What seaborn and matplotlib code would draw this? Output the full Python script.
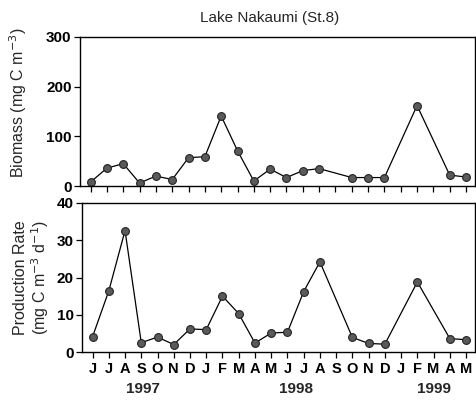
import numpy as np
import pandas as pd
import matplotlib
matplotlib.use("Agg")
import matplotlib.pyplot as plt
import seaborn as sns

months = ["J", "J", "A", "S", "O", "N", "D", "J", "F", "M", "A", "M",
          "J", "J", "A", "S", "O", "N", "D", "J", "F", "M", "A", "M"]
biomass = [8, 36, 45, 6, 20, 13, 57, 59, 141, 71, 10, 34,
           17, 31, 35, np.nan, 17, 17, 17, np.nan, 162, np.nan, 22, 18]
production = [4.1, 16.4, 32.6, 2.5, 4.0, 2.0, 6.2, 6.0, 15.0, 10.3, 2.4, 5.1,
              5.3, 16.2, 24.2, np.nan, 3.9, 2.3, 2.1, np.nan, 18.8, np.nan, 3.6, 3.3]
years = ["1997", "1998", "1999"]
year_pos = [3.1, 12.5, 21.0]

sns.set_style("ticks")
plt.rcParams['font.family'] = ['Liberation Sans', 'DejaVu Sans']

df = pd.DataFrame({"idx": np.arange(len(months)), "biomass": biomass, "production": production})

fig = plt.figure(figsize=(4.76, 4.01), dpi=100)
ax1 = fig.add_axes([80/476, 1 - 186/401, 395/476, 149/401])
ax2 = fig.add_axes([82/476, 1 - 352/401, 393/476, 149/401])

style = dict(color="black", linewidth=0.9, marker="o", markersize=5.6,
             markerfacecolor="#5a5a5a", markeredgecolor="#222222", markeredgewidth=0.8)

d1 = df.dropna(subset=["biomass"])
sns.lineplot(data=d1, x="idx", y="biomass", ax=ax1, **style)
d2 = df.dropna(subset=["production"])
sns.lineplot(data=d2, x="idx", y="production", ax=ax2, **style)

for ax in (ax1, ax2):
    ax.set_xlim(-0.65, 23.55)
    ax.set_xticks(np.arange(len(months)))
    for s in ax.spines.values():
        s.set_visible(True)
        s.set_linewidth(1.0)
        s.set_color("black")
    ax.tick_params(direction="out", length=4, width=0.9, colors="black",
                   labelsize=11)
    ax.tick_params(axis="y", pad=2)
    ax.set_xlabel("")

ax1.set_ylim(0, 300)
ax1.set_yticks([0, 100, 200, 300])
ax1.set_yticklabels(["0", "100", "200", "300"], fontweight="bold", fontsize=11)
ax1.set_xticklabels([])
ax1.set_ylabel("Biomass (mg C m$^{-3}$)", fontsize=11.5)
ax1.yaxis.set_label_coords(-0.128, 0.56)

ax2.set_ylim(0, 40)
ax2.set_yticks([0, 10, 20, 30, 40])
ax2.set_yticklabels(["0", "10", "20", "30", "40"], fontweight="bold", fontsize=11)
ax2.set_xticklabels(months, fontsize=10.5, fontweight="bold")
ax2.tick_params(axis="x", pad=3)
ax2.set_ylabel("Production Rate\n(mg C m$^{-3}$ d$^{-1}$)", fontsize=11.5, labelpad=4,
               linespacing=1.1)

for y, p in zip(years, year_pos):
    ax2.text(p, -0.245, y, transform=ax2.get_xaxis_transform(), ha="center",
             va="center", fontsize=11, fontweight="bold")

fig.text(270/476, 1 - 18/401, "Lake Nakaumi (St.8)", ha="center", va="center",
         fontsize=11)

fig.savefig("out.png", dpi=100)
